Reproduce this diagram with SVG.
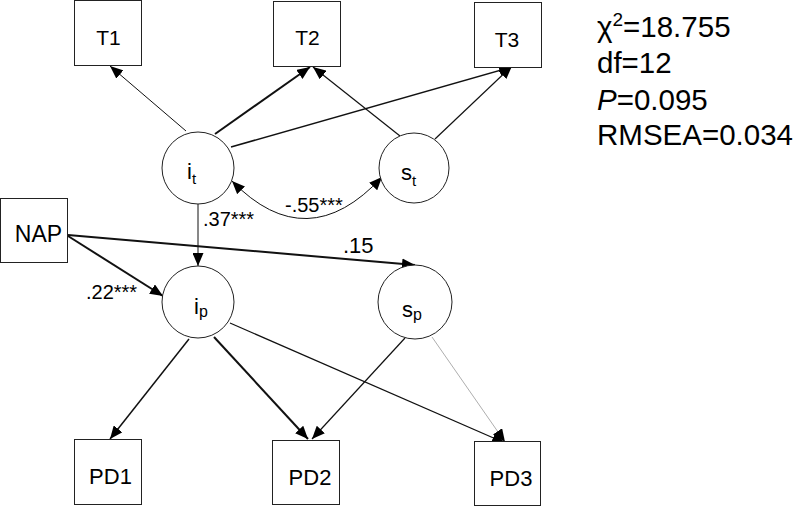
<svg xmlns="http://www.w3.org/2000/svg" width="794" height="507" viewBox="0 0 794 507">
<defs>
<style>
.box{fill:#fff;stroke:#222;stroke-width:1}
.lat{fill:#fff;stroke:#222;stroke-width:1}
.lbl{font-family:"Liberation Sans",Arial,sans-serif;fill:#000}
.e{fill:none;stroke:#111;marker-end:url(#ah)}
.w1{stroke-width:1}
.w12{stroke-width:1.2}
.w15{stroke-width:1.5}
.w2{stroke-width:2}
.faint{stroke:#999;stroke-width:0.8}
</style>
<marker id="ah" markerUnits="userSpaceOnUse" markerWidth="14" markerHeight="11" refX="13" refY="5.5" orient="auto-start-reverse" viewBox="0 0 14 11">
<path d="M0,0 L13,5.5 L0,11 z" fill="#000"/>
</marker>
</defs>
<rect width="794" height="507" fill="#fff"/>
<g id="connectors">
<path class="e w1" d="M186,131 L110,66"/>
<path class="e w2" d="M215,134 L310,67"/>
<path class="e w15" d="M231,147 L512,67"/>
<path class="e w12" d="M400,136 L313,67"/>
<path class="e w12" d="M435,139 L512,66"/>
<path class="e w1" d="M232,181 Q307,258 382,177" marker-start="url(#ah)"/>
<path class="e w1" d="M198,204 L198,266"/>
<path class="e w2" d="M68,236 L163,296"/>
<path class="e w2" d="M68,235 L415,265"/>
<path class="e w15" d="M189,339 L110,439"/>
<path class="e w2" d="M214,337 L308,439"/>
<path class="e w12" d="M230,323 L505,443"/>
<path class="e w12" d="M405,338 L312,439"/>
<path class="e faint" d="M432,337 L505,442"/>
</g>
<g id="edge-labels" class="lbl">
<text x="203" y="226" font-size="20">.37***</text>
<text x="285" y="212" font-size="20">-.55***</text>
<text x="86" y="299" font-size="20">.22***</text>
<text x="343" y="253" font-size="22">.15</text>
</g>
<g id="T1"><rect class="box" x="74.5" y="0.5" width="67" height="65"/><text class="lbl" x="108.5" y="45" font-size="21" text-anchor="middle">T1</text></g>
<g id="T2"><rect class="box" x="273.5" y="1.5" width="67" height="65"/><text class="lbl" x="307.5" y="45" font-size="21" text-anchor="middle">T2</text></g>
<g id="T3"><rect class="box" x="474.5" y="2.5" width="67" height="65"/><text class="lbl" x="507" y="47" font-size="21" text-anchor="middle">T3</text></g>
<g id="NAP"><rect class="box" x="0.5" y="198.5" width="67" height="64"/><text class="lbl" x="38.5" y="242" font-size="23" text-anchor="middle">NAP</text></g>
<g id="PD1"><rect class="box" x="74.5" y="439.5" width="67" height="65"/><text class="lbl" x="110.5" y="484" font-size="22" text-anchor="middle">PD1</text></g>
<g id="PD2"><rect class="box" x="272.5" y="440.5" width="67" height="64"/><text class="lbl" x="310" y="485" font-size="22" text-anchor="middle">PD2</text></g>
<g id="PD3"><rect class="box" x="474.5" y="441.5" width="66" height="64"/><text class="lbl" x="511" y="486" font-size="22" text-anchor="middle">PD3</text></g>
<g id="it"><circle class="lat" cx="198" cy="168" r="36"/><text class="lbl" x="187" y="179" font-size="22">i<tspan font-size="15" dy="5">t</tspan></text></g>
<g id="st"><circle class="lat" cx="414" cy="168" r="35"/><text class="lbl" x="401" y="180" font-size="22">s<tspan font-size="15" dy="6">t</tspan></text></g>
<g id="ip"><circle class="lat" cx="198" cy="302" r="36"/><text class="lbl" x="194" y="314" font-size="22">i<tspan font-size="16" dy="3">p</tspan></text></g>
<g id="sp"><circle class="lat" cx="415" cy="302" r="37"/><text class="lbl" x="402" y="317" font-size="22">s<tspan font-size="16" dy="3">p</tspan></text></g>
<g id="fit" class="lbl" font-size="29.5">
<text x="597" y="37">χ<tspan font-size="19" dy="-11">2</tspan><tspan dy="11">=18.755</tspan></text>
<text x="597" y="73">df=12</text>
<text x="597" y="110"><tspan font-style="italic">P</tspan>=0.095</text>
<text x="597" y="145">RMSEA=0.034</text>
</g>
</svg>
